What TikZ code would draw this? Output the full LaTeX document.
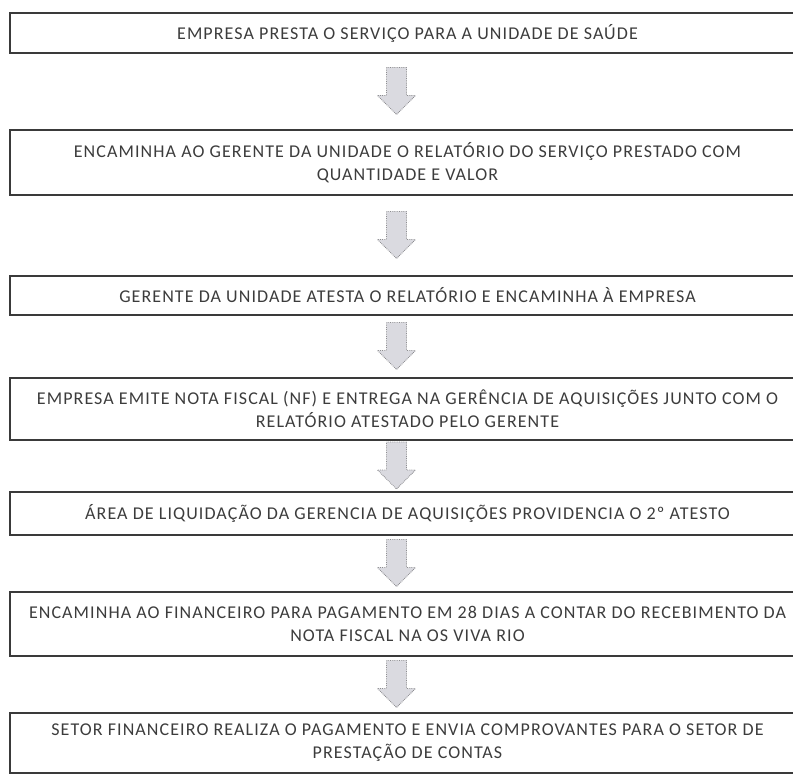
\documentclass[tikz,border=0pt]{standalone}
\usepackage{fontspec}
\setmainfont{Carlito}
\newfontfamily\stepfont[LetterSpace=6]{Carlito}
\usepackage{xcolor}
\usetikzlibrary{calc}

\definecolor{boxline}{HTML}{3A3A3A}
\definecolor{boxtext}{HTML}{3C3C3C}
\definecolor{arrowfill}{HTML}{DADAE0}
\definecolor{arrowline}{HTML}{8C8C90}

\tikzset{
  stepbox/.style={draw=boxline, line width=1.1pt, minimum width=795pt,
    inner sep=0pt, align=center, text=boxtext,
    font=\stepfont\fontsize{18}{23}\selectfont},
  downarrow/.style={draw=arrowline, densely dotted, fill=arrowfill, line width=0.8pt}
}

\begin{document}
\begin{tikzpicture}[x=1pt,y=-1pt]
  % Define centre of the boxes (they run off the right edge)
  \def\bx{407.5}
  \useasboundingbox (0,0) rectangle (793,776);
  \clip (0,0) rectangle (793,776);
  % Draw the steps
  \node[stepbox, minimum height=40pt] (b1) at (\bx,33)
    {EMPRESA PRESTA O SERVIÇO PARA A UNIDADE DE SAÚDE};
  \node[stepbox, minimum height=65pt] (b2) at (\bx,162.5)
    {ENCAMINHA AO GERENTE DA UNIDADE O RELATÓRIO DO SERVIÇO PRESTADO COM\\QUANTIDADE E VALOR};
  \node[stepbox, minimum height=39pt] (b3) at (\bx,295.5)
    {GERENTE DA UNIDADE ATESTA O RELATÓRIO E ENCAMINHA À EMPRESA};
  \node[stepbox, minimum height=62pt] (b4) at (\bx,409)
    {EMPRESA EMITE NOTA FISCAL (NF) E ENTREGA NA GERÊNCIA DE AQUISIÇÕES JUNTO COM O\\RELATÓRIO ATESTADO PELO GERENTE};
  \node[stepbox, minimum height=43pt] (b5) at (\bx,513.5)
    {ÁREA DE LIQUIDAÇÃO DA GERENCIA DE AQUISIÇÕES PROVIDENCIA O 2º ATESTO};
  \node[stepbox, minimum height=64pt] (b6) at (\bx,624)
    {ENCAMINHA AO FINANCEIRO PARA PAGAMENTO EM 28 DIAS A CONTAR DO RECEBIMENTO DA\\NOTA FISCAL NA OS VIVA RIO};
  \node[stepbox, minimum height=60pt] (b7) at (\bx,743)
    {SETOR FINANCEIRO REALIZA O PAGAMENTO E ENVIA COMPROVANTES PARA O SETOR DE\\PRESTAÇÃO DE CONTAS};
  % Draw the block arrows between the steps
  \foreach \a/\b in {1/2,2/3,3/4,4/5,5/6,6/7} {
    \coordinate (a\a) at ($(b\a.south)!0.5!(b\b.north) + (-11,0)$);
    \draw[downarrow, shift={(a\a)}]
      (-10,-24) -- (10,-24) -- (10,4) -- (19,4) -- (0,23)
      -- (-19,4) -- (-10,4) -- cycle;
  }
\end{tikzpicture}
\end{document}
